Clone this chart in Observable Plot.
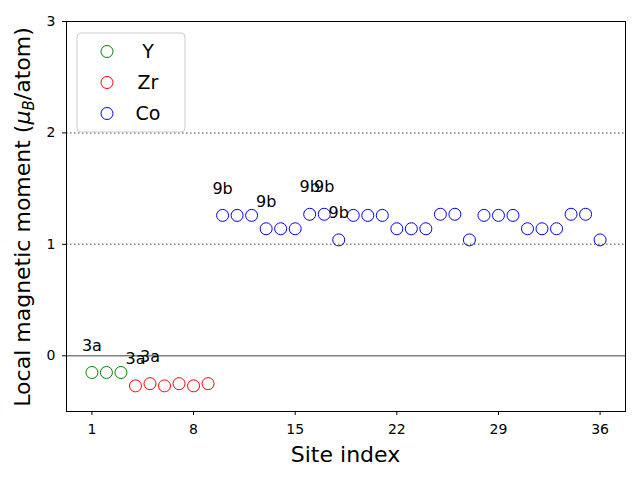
<!DOCTYPE html>
<html>
<head>
<meta charset="utf-8">
<script src="https://cdn.jsdelivr.net/npm/d3@7"></script>
<script src="https://cdn.jsdelivr.net/npm/@observablehq/plot@0.6"></script>
<style>
  html, body { margin: 0; padding: 0; background: #fff; }
  #chart { position: relative; width: 640px; height: 480px; }
  svg { font-family: "DejaVu Sans", sans-serif; }
</style>
</head>
<body>
<div id="chart"></div>
<script>
// ---- data ----
const ySites = [1, 2, 3];
const yMoments = [-0.15, -0.15, -0.15];
const zrSites = [4, 5, 6, 7, 8, 9];
const zrMoments = [-0.27, -0.25, -0.27, -0.25, -0.27, -0.25];
const coSites = [10, 11, 12, 13, 14, 15, 16, 17, 18, 19, 20, 21, 22, 23, 24, 25, 26, 27, 28, 29, 30, 31, 32, 33, 34, 35, 36];
const coMoments = [1.26, 1.26, 1.26, 1.14, 1.14, 1.14, 1.27, 1.27, 1.04,
                   1.26, 1.26, 1.26, 1.14, 1.14, 1.14, 1.27, 1.27, 1.04,
                   1.26, 1.26, 1.26, 1.14, 1.14, 1.14, 1.27, 1.27, 1.04];
const labelSites = [1, 4, 5, 10, 13, 16, 17, 18];
const labelTexts = ["3a", "3a", "3a", "9b", "9b", "9b", "9b", "9b"];
const legendNames = ["Y", "Zr", "Co"];
const legendColors = ["green", "red", "blue"];
const xTicks = [1, 8, 15, 22, 29, 36];
const yTicks = [0, 1, 2, 3];
const solidLines = [0];
const dottedLines = [1, 2];

// ---- build tables ----
const points = [];
ySites.forEach((s, i) => points.push({site: s, m: yMoments[i], el: "Y"}));
zrSites.forEach((s, i) => points.push({site: s, m: zrMoments[i], el: "Zr"}));
coSites.forEach((s, i) => points.push({site: s, m: coMoments[i], el: "Co"}));
const bySite = new Map(points.map(p => [p.site, p]));
const labels = labelSites.map((s, i) => ({site: s, m: bySite.get(s).m, text: labelTexts[i]}));

const chart = Plot.plot({
  width: 640,
  height: 480,
  marginLeft: 66,
  marginRight: 15,
  marginTop: 21,
  marginBottom: 69,
  style: {fontFamily: "DejaVu Sans, sans-serif", background: "white", overflow: "visible"},
  x: {domain: [-0.75, 37.75]},
  y: {domain: [-0.5, 3]},
  color: {domain: legendNames, range: legendColors},
  marks: [
    Plot.ruleY(solidLines, {stroke: "gray", strokeWidth: 1.5}),
    Plot.ruleY(dottedLines, {stroke: "gray", strokeWidth: 1.5, strokeDasharray: "1.5,2.5"}),
    Plot.dot(points, {x: "site", y: "m", stroke: "el", r: 6, strokeWidth: 1, fill: "none"}),
    Plot.text(labels, {x: "site", y: "m", text: "text", dy: -27, fontSize: 16, fill: "black"}),
    Plot.frame({stroke: "black", strokeWidth: 1}),
    Plot.axisX({ticks: xTicks, tickSize: 4, tickPadding: 9, fontSize: 14, label: null, tickFormat: d => String(d)}),
    Plot.axisY({ticks: yTicks, tickSize: 4, tickPadding: 7, fontSize: 14, label: null, tickFormat: d => String(d)})
  ]
});
document.getElementById("chart").appendChild(chart);

// ---- axis labels with subscript and legend ----
const svg = d3.select(chart);
svg.append("text")
  .attr("x", 345.5).attr("y", 462)
  .attr("text-anchor", "middle")
  .attr("font-size", 22).attr("fill", "black")
  .text("Site index");

const yl = svg.append("text")
  .attr("transform", "translate(30,217) rotate(-90)")
  .attr("text-anchor", "middle")
  .attr("font-size", 22).attr("fill", "black");
yl.append("tspan").text("Local magnetic moment (");
yl.append("tspan").attr("font-style", "italic").text("μ");
yl.append("tspan").attr("font-style", "italic").attr("font-size", 15).attr("dy", 4).text("B");
yl.append("tspan").attr("dy", -4).text("/atom)");

const lg = svg.append("g");
lg.append("rect")
  .attr("x", 77).attr("y", 33).attr("width", 108).attr("height", 99)
  .attr("rx", 4).attr("fill", "white").attr("fill-opacity", 0.8)
  .attr("stroke", "#cccccc").attr("stroke-width", 1);
legendNames.forEach((name, i) => {
  const cy = 51.5 + i * 31;
  lg.append("circle").attr("cx", 107).attr("cy", cy).attr("r", 6)
    .attr("fill", "none").attr("stroke", legendColors[i]).attr("stroke-width", 1);
  lg.append("text").attr("x", 148).attr("y", cy).attr("dy", "0.36em")
    .attr("font-size", 19).attr("fill", "black").text(name);
});
</script>
</body>
</html>
